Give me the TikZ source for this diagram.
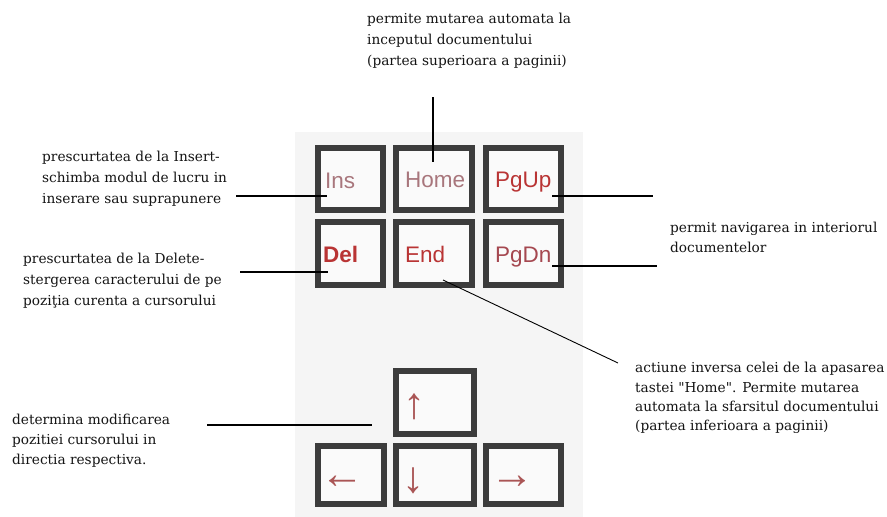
\documentclass[tikz,border=0pt]{standalone}
\usepackage{fontspec}
\setmainfont{DejaVu Serif}
\setsansfont{Liberation Sans}
\newfontfamily\arrowfont{Liberation Sans}
\definecolor{panel}{RGB}{245,245,245}
\definecolor{keyedge}{RGB}{60,60,60}
\definecolor{keyfill}{RGB}{250,250,250}
\definecolor{mutedred}{RGB}{168,118,124}
\definecolor{keyred}{RGB}{185,52,52}
\definecolor{mixred}{RGB}{165,72,80}
\definecolor{arrred}{RGB}{170,85,85}
\definecolor{anntext}{RGB}{20,20,20}
\begin{document}
\begin{tikzpicture}[x=1pt,y=-1pt,
  ann/.style={font=\fontsize{13.7}{21}\selectfont, align=left, inner sep=0pt, text=anntext, anchor=west},
  key/.style={draw=keyedge, line width=6pt, fill=keyfill, inner sep=0pt},
  klbl/.style={font=\sffamily\fontsize{22.5}{27}\selectfont, anchor=base west, inner sep=0pt},
  arr/.style={font=\arrowfont\fontsize{44}{44}\selectfont, inner sep=0pt, text=arrred},
  conn/.style={line width=1.1pt, black}]
\useasboundingbox (0,0) rectangle (887,517);
\fill[white] (0,0) rectangle (887,517);
% panel
\fill[panel] (295,132) rectangle (583,517);
% keys
\node[key, minimum width=65pt, minimum height=62pt] (ins)  at (350.5,179) {};
\node[key, minimum width=76pt, minimum height=62pt] (home) at (434,179) {};
\node[key, minimum width=75pt, minimum height=62pt] (pgup) at (523.5,179) {};
\node[key, minimum width=65pt, minimum height=63pt] (del)  at (350.5,253.5) {};
\node[key, minimum width=76pt, minimum height=63pt] (end)  at (434,253.5) {};
\node[key, minimum width=75pt, minimum height=63pt] (pgdn) at (523.5,253.5) {};
\node[key, minimum width=78pt, minimum height=63pt] (up)    at (435,402.5) {};
\node[key, minimum width=66pt, minimum height=58pt] (left)  at (351,475) {};
\node[key, minimum width=78pt, minimum height=58pt] (down)  at (435,475) {};
\node[key, minimum width=75pt, minimum height=58pt] (right) at (523.5,475) {};
% key labels
\node[klbl, text=mutedred] (insl)  at (325,188) {Ins};
\node[klbl, text=mutedred] (homel) at (405,187) {Home};
\node[klbl, text=keyred]   (pgupl) at (495,187) {PgUp};
\node[klbl, text=keyred]   (dell)  at (323,262) {\bfseries Del};
\node[klbl, text=keyred]   (endl)  at (405,262) {End};
\node[klbl, text=mixred]   (pgdnl) at (495,262) {PgDn};
% arrow glyphs
\node[arr] (upa)    at (414,407) {↑};
\node[arr] (lefta)  at (342,482) {←};
\node[arr] (downa)  at (413,481) {↓};
\node[arr] (righta) at (512,482) {→};
% annotations
\node[ann] (thome) at (367,40.5) {permite mutarea automata la\\inceputul documentului\\(partea superioara a paginii)};
\node[ann] (tins) at (42,179) {prescurtatea de la Insert-\\schimba modul de lucru in\\inserare sau suprapunere};
\node[ann] (tdel) at (23,280.5) {prescurtatea de la Delete-\\stergerea caracterului de pe\\poziţia curenta a cursorului};
\node[ann, font=\fontsize{13.7}{20}\selectfont] (tpg) at (670,237.5) {permit navigarea in interiorul\\documentelor};
\node[ann, font=\fontsize{13.7}{19.3}\selectfont] (tend) at (635,398) {actiune inversa celei de la apasarea\\tastei \textquotedbl Home\textquotedbl . Permite mutarea\\automata la sfarsitul documentului\\(partea inferioara a paginii)};
\node[ann, font=\fontsize{13.7}{20}\selectfont] (tarr) at (12,441) {determina modificarea\\pozitiei cursorului in\\directia respectiva.};
% connector end points
\coordinate (cins1) at (236,196);  \coordinate (cins2) at (327,196);
\coordinate (cdel1) at (240,272);  \coordinate (cdel2) at (328,272);
\coordinate (chom1) at (433,97);   \coordinate (chom2) at (433,162);
\coordinate (cpgu1) at (552,196);  \coordinate (cpgu2) at (653,196);
\coordinate (cpgd1) at (552,266);  \coordinate (cpgd2) at (657,266);
\coordinate (cend1) at (443,280);  \coordinate (cend2) at (618,363);
\coordinate (carr1) at (207,425);  \coordinate (carr2) at (372,425);
\draw[conn] (cins1) -- (cins2);
\draw[conn] (cdel1) -- (cdel2);
\draw[conn] (chom1) -- (chom2);
\draw[conn] (cpgu1) -- (cpgu2);
\draw[conn] (cpgd1) -- (cpgd2);
\draw[conn, line width=0.9pt] (cend1) -- (cend2);
\draw[conn] (carr1) -- (carr2);
\end{tikzpicture}
\end{document}
